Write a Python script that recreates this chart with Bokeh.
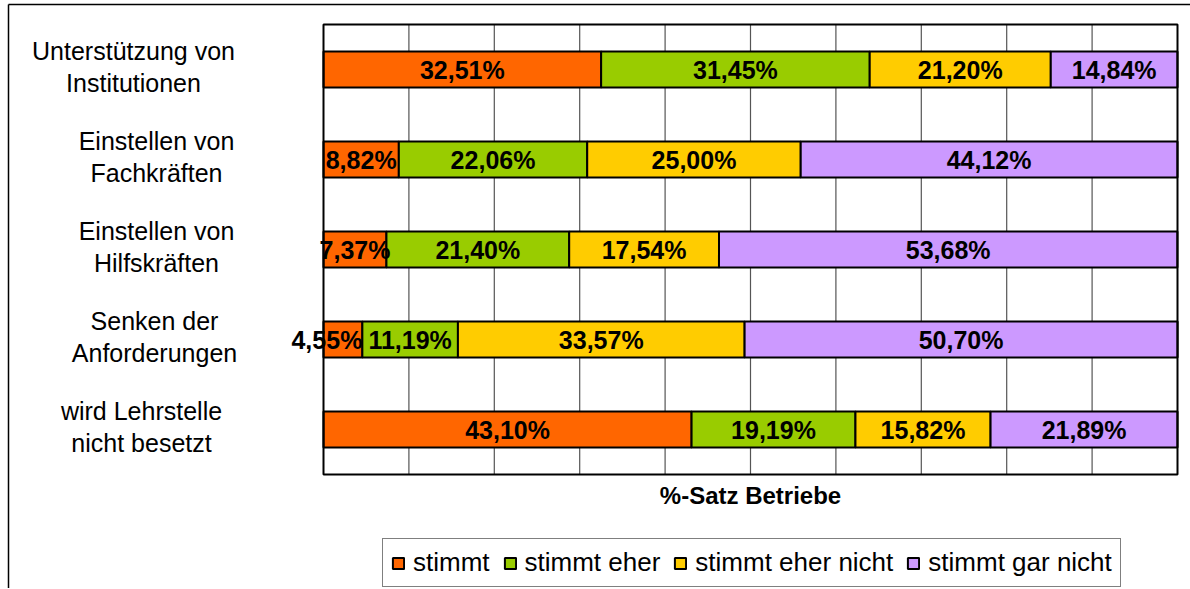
from bokeh.plotting import figure
from bokeh.models import (ColumnDataSource, Legend, LegendItem, Range1d)
from bokeh.embed import file_html
from bokeh.resources import INLINE
from bokeh.core.properties import value

# ---------------- data ----------------
categories = [
    "Unterstützung von\nInstitutionen",
    "Einstellen von\nFachkräften",
    "Einstellen von\nHilfskräften",
    "Senken der\nAnforderungen",
    "wird Lehrstelle\nnicht besetzt",
]
series = ["stimmt", "stimmt eher", "stimmt eher nicht", "stimmt gar nicht"]
stimmt = [32.51, 8.82, 7.37, 4.55, 43.10]
stimmt_eher = [31.45, 22.06, 21.40, 11.19, 19.19]
stimmt_eher_nicht = [21.20, 25.00, 17.54, 33.57, 15.82]
stimmt_gar_nicht = [14.84, 44.12, 53.68, 50.70, 21.89]
grid_ticks = [10, 20, 30, 40, 50, 60, 70, 80, 90]
colors = ["#FF6600", "#99CC00", "#FFCC00", "#CC99FF"]
x_title = "%-Satz Betriebe"

# ---------------- layout (canvas pixels) ----------------
FONT = "Liberation Sans"
W, H = 1190, 588
PX0, PX1 = 323, 1177      # plot area left / right
PY0, PY1 = 24, 474        # plot area top / bottom
BORDER_X, BORDER_Y = 8, 4  # outer chart border (left / top)
label_centers_px = [133, 156, 156, 154, 141]   # centre of each category text block

n = len(categories)
sx = (PX1 - PX0) / 100.0
sy = (PY1 - PY0) / n
x_start, x_end = -PX0 / sx, 100 + (W - PX1) / sx
y_start, y_end = -(H - PY1) / sy, n + PY0 / sy

values = [stimmt, stimmt_eher, stimmt_eher_nicht, stimmt_gar_nicht]
ypos = [n - 0.5 - i for i in range(n)]
data = {"y": ypos}
for name, vals in zip(series, values):
    data[name] = vals
src = ColumnDataSource(data)

p = figure(width=W, height=H, x_range=Range1d(x_start, x_end),
           y_range=Range1d(y_start, y_end), x_axis_location=None,
           y_axis_location=None, output_backend="svg", toolbar_location=None,
           min_border=0, background_fill_color="white", border_fill_color="white")
p.outline_line_color = None
p.xgrid.visible = False
p.ygrid.visible = False

# outer chart border (left / top)
bx = x_start + BORDER_X / sx
by = y_end - BORDER_Y / sy
p.segment(x0=[bx, bx], y0=[by, by], x1=[bx, x_end], y1=[y_start, by],
          line_color="black", line_width=1.5)

# gridlines
p.segment(x0=grid_ticks, y0=[0] * len(grid_ticks), x1=grid_ticks,
          y1=[n] * len(grid_ticks), line_color="#555555", line_width=1.2)

rs = p.hbar_stack(series, y="y", height=0.4, fill_color=colors,
                  line_color="black", line_width=2, source=src)

# plot area border
p.quad(left=[0], right=[100], bottom=[0], top=[n], fill_color=None,
       line_color="black", line_width=2)

# value labels
cx, cy, ct, nx, ny, nt = [], [], [], [], [], []
for j in range(n):
    left = 0.0
    for vals in values:
        v = vals[j]
        txt = f"{v:.2f}".replace(".", ",") + "%"
        if v < 6:
            nx.append(left + v); ny.append(ypos[j]); nt.append(txt)
        else:
            cx.append(left + v / 2); cy.append(ypos[j]); ct.append(txt)
        left += v

common = dict(text_font=value(FONT), text_font_size="25px",
              text_font_style="bold", text_color="black", text_baseline="middle")
p.text(x=cx, y=cy, text=ct, text_align="center", **common)
p.text(x=nx, y=ny, text=nt, text_align="right", **common)

# category labels (two lines each)
lx, ly, lt = [], [], []
for i, cat in enumerate(categories):
    l1, l2 = cat.split("\n")
    xd = (label_centers_px[i] - PX0) / sx
    lx += [xd, xd]
    ly += [ypos[i] + 19.0 / sy, ypos[i] - 13.5 / sy]
    lt += [l1, l2]
p.text(x=lx, y=ly, text=lt, text_font=value(FONT), text_font_size="25px",
       text_align="center", text_baseline="alphabetic", text_color="black")

# axis title
p.text(x=[50], y=[-21.0 / sy], text=[x_title], text_font=value(FONT),
       text_font_size="24px", text_font_style="bold", text_align="center",
       text_baseline="middle", text_color="black")

legend = Legend(items=[LegendItem(label=s, renderers=[r]) for s, r in zip(series, rs)],
                orientation="horizontal", location=(382, 1),
                glyph_width=14, glyph_height=14, label_standoff=8, spacing=13,
                padding=8, margin=0, border_line_color="black",
                border_line_width=1.5, label_text_font=FONT,
                label_text_font_size="26px", label_text_color="black",
                background_fill_alpha=1.0)
p.add_layout(legend, "center")

open("out.html", "w").write(file_html(p, INLINE))
